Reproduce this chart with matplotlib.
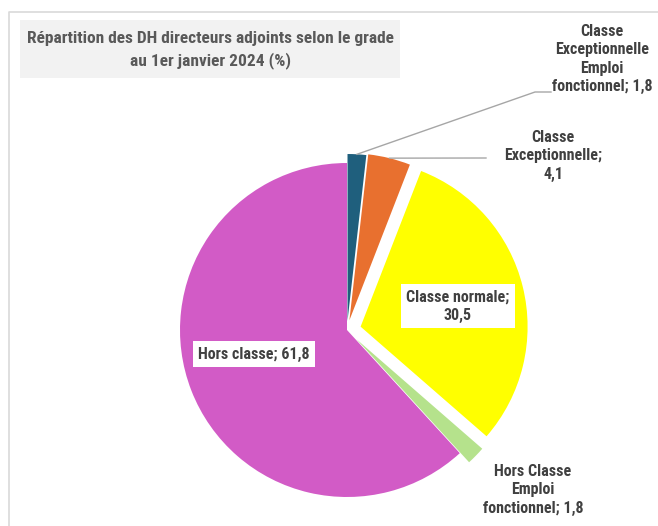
#!/usr/bin/env python3
"""Pie chart: DH directeurs adjoints by grade, 1 Jan 2024."""

import numpy as np
import matplotlib.pyplot as plt
from matplotlib.patches import Rectangle

# Slices, clockwise from 12 o'clock.
grades = [
    "Classe\nExceptionnelle\nEmploi\nfonctionnel; 1,8",
    "Classe\nExceptionnelle;\n4,1",
    "Classe normale;\n30,5",
    "Hors Classe\nEmploi\nfonctionnel; 1,8",
    "Hors classe; 61,8",
]
shares = [1.8, 4.1, 30.5, 1.8, 61.8]
colors = ["#1F5F7D", "#E8702F", "#FFFF00", "#B5E28C", "#D25BC6"]
explode = [9, 10, 14, 13, 0]  # offsets in pixels

W, H = 658, 526
FONT = ["Liberation Sans Narrow", "DejaVu Sans Condensed", "Roboto Condensed",
        "Roboto", "DejaVu Sans"]
TXT = "#404040"


def main() -> None:
    fig = plt.figure(figsize=(W / 100, H / 100), dpi=100)
    ax = fig.add_axes([0, 0, 1, 1])

    # Chart frame (top and left edges visible).
    ax.plot([9, 9, W], [0, H - 12, H - 12], color="#D9D9D9", lw=1.2, zorder=0)

    # Title box.
    ax.add_patch(Rectangle((20, H - 78), 380, 58, facecolor="#F2F2F2",
                           edgecolor="none", zorder=1))
    ax.text(210, H - 50, "Répartition des DH directeurs adjoints selon le grade\nau 1er janvier 2024 (%)",
            ha="center", va="center", fontsize=12.5, fontweight="bold",
            color="#595959", family=FONT, linespacing=1.45, zorder=2)

    cx, cy, r = 347, H - 330, 167
    wedges, _ = ax.pie(shares, colors=colors, explode=explode, startangle=90,
                       counterclock=False, center=(cx, cy), radius=r,
                       wedgeprops={"linewidth": 0}, frame=True)
    ax.set_xlim(0, W)
    ax.set_ylim(0, H)
    ax.set_aspect("equal")
    ax.axis("off")

    def edge_point(w, frac=1.0):
        ang = np.deg2rad((w.theta1 + w.theta2) / 2)
        x0, y0 = w.center
        return x0 + w.r * frac * np.cos(ang), y0 + w.r * frac * np.sin(ang)

    lab_kw = dict(ha="center", va="center", fontsize=11.5, fontweight="bold",
                  color=TXT, family=FONT, linespacing=1.3, zorder=5)

    # Leader lines for the small top slices.
    p = edge_point(wedges[0])
    ax.plot([p[0], 535, 551], [p[1], H - 92, H - 92], color="#A6A6A6", lw=1.0, zorder=4)
    ax.text(602, H - 59, grades[0], **lab_kw)

    p = edge_point(wedges[1])
    ax.plot([p[0], 486], [p[1], H - 158], color="#A6A6A6", lw=1.0, zorder=4)
    ax.text(553, H - 156, grades[1], **lab_kw)

    box = dict(boxstyle="square,pad=0.35", facecolor="white", edgecolor="none")
    ax.text(458, H - 306, grades[2], bbox=box, **lab_kw)
    ax.text(533, H - 490, grades[3], **lab_kw)
    ax.text(254, H - 354, grades[4], bbox=box, **lab_kw)

    fig.savefig("out.png", dpi=100)
    plt.close(fig)


if __name__ == "__main__":
    main()
